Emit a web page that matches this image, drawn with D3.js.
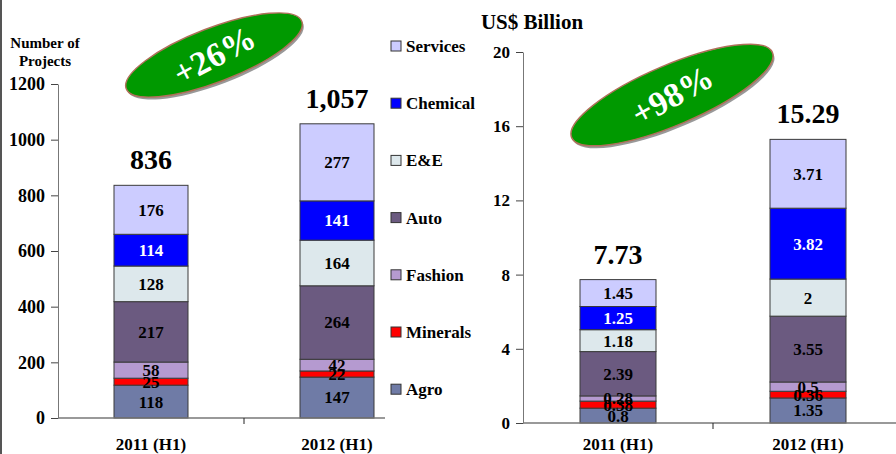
<!DOCTYPE html>
<html>
<head>
<meta charset="utf-8">
<script src="https://cdn.jsdelivr.net/npm/d3@7"></script>
<style>
  body { margin: 0; background: #fff; }
  svg, svg text { font-family: "Times New Roman", "Liberation Serif", Times, serif !important; font-weight: bold; }
</style>
</head>
<body>
<div id="chart"></div>
<script>
const categories = ["2011 (H1)", "2012 (H1)"];
const sectors = ["Agro", "Minerals", "Fashion", "Auto", "E&E", "Chemical", "Services"];
const sectorColors = ["#6f7ba6", "#ff0000", "#b59ad0", "#6b5a80", "#dde8ec", "#0000ff", "#ccccff"];
const projects2011 = [118, 25, 58, 217, 128, 114, 176];
const projects2012 = [147, 22, 42, 264, 164, 141, 277];
const projectTotals = ["836", "1,057"];
const invest2011 = [0.8, 0.38, 0.28, 2.39, 1.18, 1.25, 1.45];
const invest2012 = [1.35, 0.36, 0.5, 3.55, 2, 3.82, 3.71];
const investTotals = ["7.73", "15.29"];
const projectTicks = [0, 200, 400, 600, 800, 1000, 1200];
const investTicks = [0, 4, 8, 12, 16, 20];
const growthLabels = ["+26%", "+98%"];

const width = 896;
const height = 454;

const svg = d3.select("#chart")
  .append("svg")
  .attr("width", width)
  .attr("height", height);

// frame line on the left edge
svg.append("line")
  .attr("x1", 1).attr("x2", 1).attr("y1", 0).attr("y2", height)
  .attr("stroke", "#555").attr("stroke-width", 2);

function stackChart(opts) {
  const { values, totals, ticks, x, y, axisEnd, tickFont } = opts;

  const rows = categories.map((c, i) => {
    let acc = 0;
    return values[i].map((v, k) => {
      const seg = { cat: c, sector: sectors[k], k, v, y0: acc, y1: acc + v };
      acc += v;
      return seg;
    });
  });

  const barW = opts.barWidth;
  const g = svg.append("g");

  g.selectAll("g.bar")
    .data(rows)
    .join("g")
    .attr("class", "bar")
    .selectAll("rect")
    .data(d => d)
    .join("rect")
      .attr("x", d => x(d.cat) + x.bandwidth() / 2 - barW / 2)
      .attr("y", d => y(d.y1))
      .attr("width", barW)
      .attr("height", d => y(d.y0) - y(d.y1))
      .attr("fill", d => sectorColors[d.k])
      .attr("stroke", "#3a3a3a")
      .attr("stroke-width", 1);

  g.selectAll("g.lab")
    .data(rows)
    .join("g")
    .attr("class", "lab")
    .selectAll("text")
    .data(d => d)
    .join("text")
      .attr("x", d => x(d.cat) + x.bandwidth() / 2)
      .attr("y", d => (y(d.y0) + y(d.y1)) / 2)
      .attr("dy", "0.35em")
      .attr("text-anchor", "middle")
      .attr("font-size", 17)
      .attr("fill", d => d.sector === "Chemical" ? "#fff" : "#000")
      .text(d => d.v);

  g.selectAll("text.total")
    .data(rows)
    .join("text")
      .attr("class", "total")
      .attr("x", d => x(d[0].cat) + x.bandwidth() / 2)
      .attr("y", d => y(d[d.length - 1].y1) - 16)
      .attr("text-anchor", "middle")
      .attr("font-size", 28)
      .text((d, i) => totals[i]);

  // y axis
  const ya = g.append("g")
    .attr("transform", `translate(${x.range()[0]},0)`)
    .call(d3.axisLeft(y).tickValues(ticks).tickFormat(d3.format("d")).tickSize(7).tickSizeOuter(0));
  ya.select(".domain").attr("stroke", "#777");
  ya.selectAll(".tick line").attr("stroke", "#444");
  ya.selectAll(".tick text")
    .attr("font-size", tickFont)
    .attr("fill", "#000")
    .attr("x", -13);

  // x axis: line, one tick between categories, labels under bars
  const y0 = y(0);
  g.append("line")
    .attr("x1", x.range()[0]).attr("x2", axisEnd)
    .attr("y1", y0).attr("y2", y0)
    .attr("stroke", "#777").attr("stroke-width", 1.5);
  g.append("line")
    .attr("x1", x(categories[1])).attr("x2", x(categories[1]))
    .attr("y1", y0).attr("y2", y0 + 6)
    .attr("stroke", "#222");
  g.selectAll("text.cat")
    .data(categories)
    .join("text")
      .attr("class", "cat")
      .attr("x", d => x(d) + x.bandwidth() / 2)
      .attr("y", 450)
      .attr("text-anchor", "middle")
      .attr("font-size", 17)
      .text(d => d);
}

function growthBadge(cx, cy, rx, ry, angle, textAngle, label) {
  const g = svg.append("g").attr("transform", `translate(${cx},${cy})`);
  g.append("ellipse")
    .attr("rx", rx).attr("ry", ry)
    .attr("transform", `translate(1.5,2.5) rotate(${angle})`)
    .attr("fill", "#999");
  g.append("ellipse")
    .attr("rx", rx).attr("ry", ry)
    .attr("transform", `rotate(${angle})`)
    .attr("fill", "#009900")
    .attr("stroke", "#b0705a")
    .attr("stroke-width", 1.5);
  g.append("text")
    .attr("transform", `rotate(${textAngle})`)
    .attr("text-anchor", "middle")
    .attr("dy", "0.35em")
    .attr("fill", "#fff")
    .attr("font-size", 34)
    .text(label);
}

// left chart: number of projects
const xLeft = d3.scaleBand().domain(categories).range([58, 430]);
const yLeft = d3.scaleLinear().domain([0, 1200]).range([418, 84]);
stackChart({
  values: [projects2011, projects2012],
  totals: projectTotals,
  ticks: projectTicks,
  x: xLeft, y: yLeft, barWidth: 74, axisEnd: 385, tickFont: 18
});

// right chart: US$ billion
const xRight = d3.scaleBand().domain(categories).range([523, 903]);
const yRight = d3.scaleLinear().domain([0, 20]).range([423, 52]);
stackChart({
  values: [invest2011, invest2012],
  totals: investTotals,
  ticks: investTicks,
  x: xRight, y: yRight, barWidth: 76, axisEnd: 896, tickFont: 17
});

// axis titles
svg.append("text")
  .attr("x", 45).attr("y", 48)
  .attr("text-anchor", "middle")
  .attr("font-size", 15)
  .text("Number of");
svg.append("text")
  .attr("x", 45).attr("y", 66)
  .attr("text-anchor", "middle")
  .attr("font-size", 15)
  .text("Projects");
svg.append("text")
  .attr("x", 532).attr("y", 29)
  .attr("text-anchor", "middle")
  .attr("font-size", 21)
  .text("US$ Billion");

// legend
const legendOrder = sectors.slice().reverse();
const legend = svg.append("g")
  .selectAll("g")
  .data(legendOrder)
  .join("g")
  .attr("transform", (d, i) => `translate(391,${46 + i * 57.2})`);
legend.append("rect")
  .attr("x", 0).attr("y", -5)
  .attr("width", 10).attr("height", 10)
  .attr("fill", d => sectorColors[sectors.indexOf(d)])
  .attr("stroke", "#333");
legend.append("text")
  .attr("x", 15).attr("dy", "0.35em")
  .attr("font-size", 17)
  .text(d => d);

growthBadge(214, 55, 94, 27, -21, -28, growthLabels[0]);
growthBadge(672, 95, 109, 30, -23, -29, growthLabels[1]);
</script>
</body>
</html>
